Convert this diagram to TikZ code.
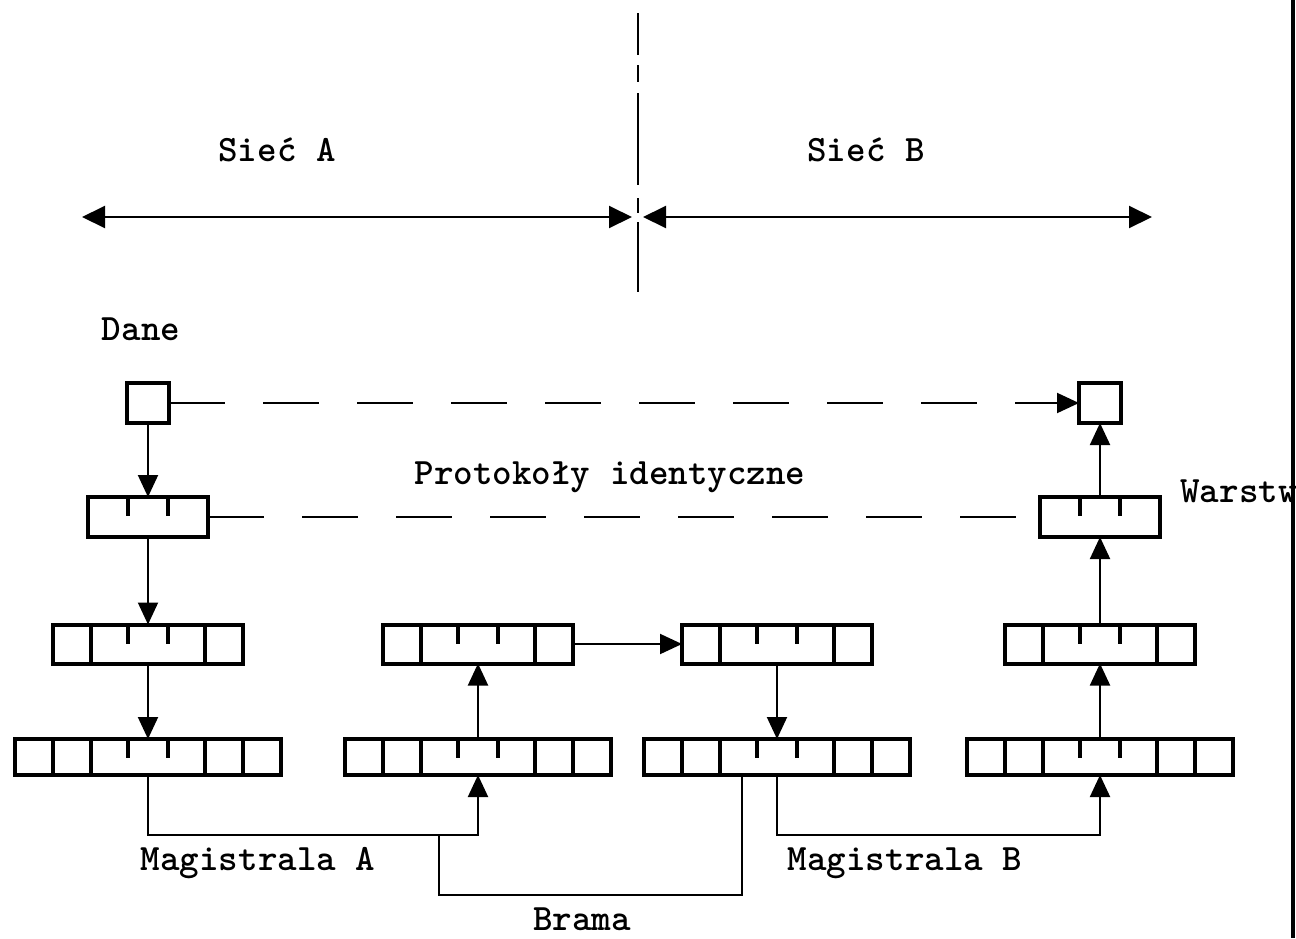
\documentclass[tikz,border=0pt]{standalone}
\usepackage{fontspec}
\usetikzlibrary{arrows.meta,positioning}

\begin{document}
\begin{tikzpicture}[x=0.5pt,y=-0.5pt,
  cell/.style={draw, line width=2pt, inner sep=0pt, outer sep=0pt,
               minimum width=19pt, minimum height=19.5pt},
  low/.style={minimum height=18pt},
  mid/.style={cell, minimum width=57pt,
              path picture={\draw[line width=2pt]
                ([xshift=-10pt]path picture bounding box.north) -- ++(0,-9.5pt)
                ([xshift=10pt]path picture bounding box.north) -- ++(0,-9.5pt);}},
  hdr/.style={mid, minimum width=60pt, minimum height=20pt},
  sq/.style={cell, minimum width=21pt, minimum height=20pt},
  arr/.style={-{Triangle[length=11pt,width=10pt]}, line width=1pt},
  big/.style={{Triangle[length=11.5pt,width=11pt]}-{Triangle[length=11.5pt,width=11pt]}, line width=1pt},
  dsh/.style={line width=1pt, dash pattern=on 28pt off 19pt},
  lbl/.style={anchor=base, inner sep=0pt, font=\ttfamily\bfseries\fontsize{18.6}{21}\selectfont}]
  \useasboundingbox (0,0) rectangle (1296,938);

  % two networks
  \draw[line width=1pt, dash pattern=on 21pt off 5pt on 8.5pt off 5.5pt on 46pt off 6.5pt on 7.5pt off 4.5pt on 35pt]
    (638,13) -- (638,292);
  \coordinate (aL) at (82,217); \coordinate (aR) at (632,217);
  \coordinate (bL) at (643,217); \coordinate (bR) at (1152,217);
  \draw[big] (aL) -- (aR);
  \draw[big] (bL) -- (bR);
  \node[lbl] (netA) at (277,161) {Sieć A};
  \node[lbl] (netB) at (866,161) {Sieć B};

  % hosts
  \node[lbl] (data) at (141,340) {Dane};
  \node[sq] (a0) at (148,403) {};
  \node[hdr] (a1) at (148,517) {};
  \node[sq] (b0) at (1100,403) {};
  \node[hdr] (b1) at (1100,517) {};

  % lower layers, one column per station
  \foreach \c/\x in {a/148,g/478,h/777,b/1100}{
    \node[mid] (\c2) at (\x,644) {};
    \node[cell, left=0pt of \c2] (\c2l) {};
    \node[cell, right=0pt of \c2] (\c2r) {};
    \node[mid, low] (\c3) at (\x,757) {};
    \node[cell, low, left=0pt of \c3] (\c3l) {};
    \node[cell, low, left=0pt of \c3l] (\c3ll) {};
    \node[cell, low, right=0pt of \c3] (\c3r) {};
    \node[cell, low, right=0pt of \c3r] (\c3rr) {};
  }

  \draw[arr] (a0) -- (a1);
  \draw[arr] (a1) -- (a2);
  \draw[arr] (a2) -- (a3);
  \draw[arr] (g3) -- (g2);
  \draw[arr] (g2r) -- (h2l);
  \draw[arr] (h2) -- (h3);
  \draw[arr] (b3) -- (b2);
  \draw[arr] (b2) -- (b1);
  \draw[arr] (b1) -- (b0);
  \draw[dsh, arr] (a0) -- (b0);
  \draw[dsh] (a1) -- (b1);
  \node[lbl] (proto) at (610,484) {Protokoły identyczne};
  \node[lbl, anchor=base west] (layer) at (1180,502) {Warstw};

  % buses and gateway
  \coordinate (gate) at (439,835);
  \draw[arr] (a3) -- (a3 |- gate) -| (g3);
  \draw[line width=1pt] (gate) -- ++(0,60) -| ([xshift=11pt]h3.south west);
  \draw[arr] (h3) -- (h3 |- gate) -| (b3);
  \node[lbl] (magA) at (258,870) {Magistrala A};
  \node[lbl] (magB) at (905,870) {Magistrala B};
  \node[lbl] (brama) at (582,930) {Brama};

  \draw[line width=1.6pt] (1293,0) -- (1293,938);
\end{tikzpicture}
\end{document}
